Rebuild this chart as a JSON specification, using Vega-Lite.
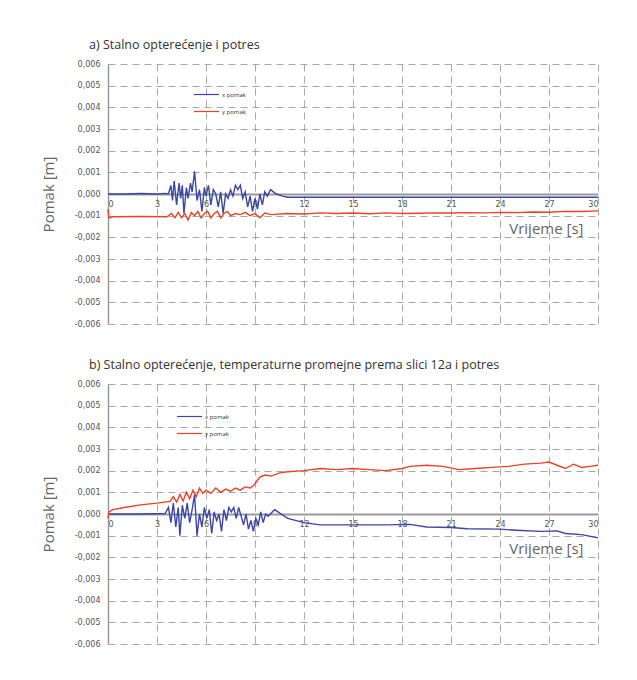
{
  "$schema": "https://vega.github.io/schema/vega-lite/v6.json",
  "background": "white",
  "padding": {"left": 41, "top": 38, "right": 10, "bottom": 10},
  "config": {
    "locale": {"number": {"decimal": ",", "thousands": ".", "grouping": [3], "currency": ["", ""], "minus": "-"}},
    "view": {"stroke": null},
    "font": "Open Sans",
    "title": {"fontSize": 12.5, "fontWeight": "normal", "color": "#333", "anchor": "start", "frame": "group", "dx": -19, "offset": 9, "font": "Open Sans"},
    "axis": {"ticks": false, "grid": true, "gridColor": "#a8a8a8", "gridDash": [7, 5], "gridWidth": 1, "labelFont": "DejaVu Sans", "labelFontSize": 8, "labelColor": "#555", "titleFont": "Open Sans", "titleFontWeight": "normal", "titleColor": "#666", "titleFontSize": 15},
    "legend": {"orient": "none", "symbolType": "stroke", "symbolSize": 625, "symbolStrokeWidth": 1.2, "labelFontSize": 6, "labelColor": "#333", "rowPadding": -7, "title": null, "labelOffset": 2}
  },
  "datasets": {
    "d": [
      {"p": "a", "s": "x pomak", "t": 0, "v": 0}, {"p": "a", "s": "x pomak", "t": 1, "v": 0}, {"p": "a", "s": "x pomak", "t": 2, "v": 0.00002}, {"p": "a", "s": "x pomak", "t": 3, "v": 0}, {"p": "a", "s": "x pomak", "t": 3.5, "v": 0.00003},
      {"p": "a", "s": "x pomak", "t": 3.7, "v": 0}, {"p": "a", "s": "x pomak", "t": 3.85, "v": 0.0004}, {"p": "a", "s": "x pomak", "t": 3.95, "v": -0.0003}, {"p": "a", "s": "x pomak", "t": 4.05, "v": 0.0006}, {"p": "a", "s": "x pomak", "t": 4.2, "v": -0.0005},
      {"p": "a", "s": "x pomak", "t": 4.35, "v": 0.0005}, {"p": "a", "s": "x pomak", "t": 4.45, "v": -0.0002}, {"p": "a", "s": "x pomak", "t": 4.55, "v": 0.0004}, {"p": "a", "s": "x pomak", "t": 4.65, "v": -0.0009}, {"p": "a", "s": "x pomak", "t": 4.8, "v": 0.0003},
      {"p": "a", "s": "x pomak", "t": 4.9, "v": -0.0002}, {"p": "a", "s": "x pomak", "t": 5.05, "v": 0.0005}, {"p": "a", "s": "x pomak", "t": 5.15, "v": 0.0001}, {"p": "a", "s": "x pomak", "t": 5.3, "v": 0.00105}, {"p": "a", "s": "x pomak", "t": 5.45, "v": -0.0003},
      {"p": "a", "s": "x pomak", "t": 5.6, "v": 0.0002}, {"p": "a", "s": "x pomak", "t": 5.75, "v": -0.0008}, {"p": "a", "s": "x pomak", "t": 5.9, "v": 0.0003}, {"p": "a", "s": "x pomak", "t": 6.0, "v": -0.0001}, {"p": "a", "s": "x pomak", "t": 6.15, "v": 0.0004},
      {"p": "a", "s": "x pomak", "t": 6.3, "v": -0.0005}, {"p": "a", "s": "x pomak", "t": 6.45, "v": 0.0002}, {"p": "a", "s": "x pomak", "t": 6.6, "v": 0.0}, {"p": "a", "s": "x pomak", "t": 6.75, "v": -0.0006}, {"p": "a", "s": "x pomak", "t": 6.9, "v": 0.0001},
      {"p": "a", "s": "x pomak", "t": 7.05, "v": -0.0009}, {"p": "a", "s": "x pomak", "t": 7.2, "v": 0.0}, {"p": "a", "s": "x pomak", "t": 7.35, "v": -0.0002}, {"p": "a", "s": "x pomak", "t": 7.5, "v": 0.0002}, {"p": "a", "s": "x pomak", "t": 7.65, "v": -0.0001},
      {"p": "a", "s": "x pomak", "t": 7.8, "v": 0.0004}, {"p": "a", "s": "x pomak", "t": 7.95, "v": 0.0002}, {"p": "a", "s": "x pomak", "t": 8.1, "v": 0.0004}, {"p": "a", "s": "x pomak", "t": 8.25, "v": -0.0002}, {"p": "a", "s": "x pomak", "t": 8.4, "v": 0.0001},
      {"p": "a", "s": "x pomak", "t": 8.55, "v": -0.0006}, {"p": "a", "s": "x pomak", "t": 8.7, "v": -0.0001}, {"p": "a", "s": "x pomak", "t": 8.85, "v": -0.0008}, {"p": "a", "s": "x pomak", "t": 9.0, "v": -0.0002}, {"p": "a", "s": "x pomak", "t": 9.15, "v": -0.0007},
      {"p": "a", "s": "x pomak", "t": 9.3, "v": 0.0}, {"p": "a", "s": "x pomak", "t": 9.45, "v": -0.0005}, {"p": "a", "s": "x pomak", "t": 9.6, "v": 0.0001}, {"p": "a", "s": "x pomak", "t": 9.75, "v": -0.0001}, {"p": "a", "s": "x pomak", "t": 9.95, "v": 0.0002},
      {"p": "a", "s": "x pomak", "t": 10.3, "v": 0.0}, {"p": "a", "s": "x pomak", "t": 10.7, "v": -0.0001}, {"p": "a", "s": "x pomak", "t": 11.0, "v": -0.00015}, {"p": "a", "s": "x pomak", "t": 30, "v": -0.00015},

      {"p": "a", "s": "y pomak", "t": 0, "v": -0.0007}, {"p": "a", "s": "y pomak", "t": 0.05, "v": -0.0011}, {"p": "a", "s": "y pomak", "t": 0.3, "v": -0.00105}, {"p": "a", "s": "y pomak", "t": 2, "v": -0.00104}, {"p": "a", "s": "y pomak", "t": 3.6, "v": -0.00105},
      {"p": "a", "s": "y pomak", "t": 3.9, "v": -0.0009}, {"p": "a", "s": "y pomak", "t": 4.1, "v": -0.0011}, {"p": "a", "s": "y pomak", "t": 4.3, "v": -0.00085}, {"p": "a", "s": "y pomak", "t": 4.5, "v": -0.0011}, {"p": "a", "s": "y pomak", "t": 4.7, "v": -0.0009},
      {"p": "a", "s": "y pomak", "t": 4.9, "v": -0.0012}, {"p": "a", "s": "y pomak", "t": 5.1, "v": -0.00085}, {"p": "a", "s": "y pomak", "t": 5.3, "v": -0.001}, {"p": "a", "s": "y pomak", "t": 5.5, "v": -0.0008}, {"p": "a", "s": "y pomak", "t": 5.7, "v": -0.0011},
      {"p": "a", "s": "y pomak", "t": 5.9, "v": -0.0009}, {"p": "a", "s": "y pomak", "t": 6.1, "v": -0.0008}, {"p": "a", "s": "y pomak", "t": 6.3, "v": -0.0011}, {"p": "a", "s": "y pomak", "t": 6.5, "v": -0.0009}, {"p": "a", "s": "y pomak", "t": 6.7, "v": -0.0008},
      {"p": "a", "s": "y pomak", "t": 6.9, "v": -0.0011}, {"p": "a", "s": "y pomak", "t": 7.1, "v": -0.0009}, {"p": "a", "s": "y pomak", "t": 7.3, "v": -0.0008}, {"p": "a", "s": "y pomak", "t": 7.5, "v": -0.001}, {"p": "a", "s": "y pomak", "t": 7.8, "v": -0.0009},
      {"p": "a", "s": "y pomak", "t": 8.1, "v": -0.00095}, {"p": "a", "s": "y pomak", "t": 8.4, "v": -0.00085}, {"p": "a", "s": "y pomak", "t": 8.7, "v": -0.001}, {"p": "a", "s": "y pomak", "t": 9.0, "v": -0.0009}, {"p": "a", "s": "y pomak", "t": 9.3, "v": -0.0011},
      {"p": "a", "s": "y pomak", "t": 9.6, "v": -0.00088}, {"p": "a", "s": "y pomak", "t": 10, "v": -0.00095}, {"p": "a", "s": "y pomak", "t": 11, "v": -0.0009}, {"p": "a", "s": "y pomak", "t": 12, "v": -0.00092}, {"p": "a", "s": "y pomak", "t": 13, "v": -0.00087},
      {"p": "a", "s": "y pomak", "t": 14, "v": -0.0009}, {"p": "a", "s": "y pomak", "t": 15, "v": -0.00088}, {"p": "a", "s": "y pomak", "t": 16, "v": -0.00091}, {"p": "a", "s": "y pomak", "t": 17, "v": -0.00087}, {"p": "a", "s": "y pomak", "t": 18, "v": -0.0009},
      {"p": "a", "s": "y pomak", "t": 19, "v": -0.00089}, {"p": "a", "s": "y pomak", "t": 20, "v": -0.00087}, {"p": "a", "s": "y pomak", "t": 21, "v": -0.00088}, {"p": "a", "s": "y pomak", "t": 22, "v": -0.00086}, {"p": "a", "s": "y pomak", "t": 23, "v": -0.00087},
      {"p": "a", "s": "y pomak", "t": 24, "v": -0.00085}, {"p": "a", "s": "y pomak", "t": 25, "v": -0.00086}, {"p": "a", "s": "y pomak", "t": 26, "v": -0.00083}, {"p": "a", "s": "y pomak", "t": 27, "v": -0.00084}, {"p": "a", "s": "y pomak", "t": 28, "v": -0.0008},
      {"p": "a", "s": "y pomak", "t": 29, "v": -0.00081}, {"p": "a", "s": "y pomak", "t": 30, "v": -0.00078},

      {"p": "b", "s": "x pomak", "t": 0, "v": 0}, {"p": "b", "s": "x pomak", "t": 2, "v": 0}, {"p": "b", "s": "x pomak", "t": 3.5, "v": 0.00002}, {"p": "b", "s": "x pomak", "t": 3.7, "v": 0.0003}, {"p": "b", "s": "x pomak", "t": 3.85, "v": -0.0004},
      {"p": "b", "s": "x pomak", "t": 4.0, "v": 0.0005}, {"p": "b", "s": "x pomak", "t": 4.15, "v": -0.0006}, {"p": "b", "s": "x pomak", "t": 4.3, "v": 0.0003}, {"p": "b", "s": "x pomak", "t": 4.4, "v": -0.001}, {"p": "b", "s": "x pomak", "t": 4.55, "v": 0.0004},
      {"p": "b", "s": "x pomak", "t": 4.7, "v": -0.0002}, {"p": "b", "s": "x pomak", "t": 4.85, "v": 0.0005}, {"p": "b", "s": "x pomak", "t": 5.0, "v": -0.0004}, {"p": "b", "s": "x pomak", "t": 5.15, "v": 0.0002}, {"p": "b", "s": "x pomak", "t": 5.3, "v": 0.0009},
      {"p": "b", "s": "x pomak", "t": 5.45, "v": -0.001}, {"p": "b", "s": "x pomak", "t": 5.6, "v": 0.0}, {"p": "b", "s": "x pomak", "t": 5.75, "v": -0.0006}, {"p": "b", "s": "x pomak", "t": 5.9, "v": 0.0003}, {"p": "b", "s": "x pomak", "t": 6.05, "v": -0.0002},
      {"p": "b", "s": "x pomak", "t": 6.2, "v": 0.0002}, {"p": "b", "s": "x pomak", "t": 6.35, "v": -0.0009}, {"p": "b", "s": "x pomak", "t": 6.5, "v": 0.0001}, {"p": "b", "s": "x pomak", "t": 6.65, "v": -0.0003}, {"p": "b", "s": "x pomak", "t": 6.8, "v": 0.0},
      {"p": "b", "s": "x pomak", "t": 6.95, "v": -0.0008}, {"p": "b", "s": "x pomak", "t": 7.1, "v": 0.0002}, {"p": "b", "s": "x pomak", "t": 7.25, "v": -0.0003}, {"p": "b", "s": "x pomak", "t": 7.4, "v": 0.0003}, {"p": "b", "s": "x pomak", "t": 7.55, "v": 0.0001},
      {"p": "b", "s": "x pomak", "t": 7.7, "v": 0.0003}, {"p": "b", "s": "x pomak", "t": 7.85, "v": -0.0002}, {"p": "b", "s": "x pomak", "t": 8.0, "v": 0.0003}, {"p": "b", "s": "x pomak", "t": 8.15, "v": -0.0001}, {"p": "b", "s": "x pomak", "t": 8.3, "v": -0.0005},
      {"p": "b", "s": "x pomak", "t": 8.45, "v": 0.0}, {"p": "b", "s": "x pomak", "t": 8.6, "v": -0.0007}, {"p": "b", "s": "x pomak", "t": 8.75, "v": -0.0003}, {"p": "b", "s": "x pomak", "t": 8.9, "v": -0.0008}, {"p": "b", "s": "x pomak", "t": 9.05, "v": -0.0002},
      {"p": "b", "s": "x pomak", "t": 9.2, "v": -0.0005}, {"p": "b", "s": "x pomak", "t": 9.35, "v": 0.0001}, {"p": "b", "s": "x pomak", "t": 9.5, "v": -0.0004}, {"p": "b", "s": "x pomak", "t": 9.65, "v": 0.0}, {"p": "b", "s": "x pomak", "t": 9.8, "v": -0.0001},
      {"p": "b", "s": "x pomak", "t": 10.2, "v": 0.0002}, {"p": "b", "s": "x pomak", "t": 11, "v": -0.0002}, {"p": "b", "s": "x pomak", "t": 12, "v": -0.0004}, {"p": "b", "s": "x pomak", "t": 13, "v": -0.0005}, {"p": "b", "s": "x pomak", "t": 15, "v": -0.0005},
      {"p": "b", "s": "x pomak", "t": 17, "v": -0.0005}, {"p": "b", "s": "x pomak", "t": 18.5, "v": -0.00048}, {"p": "b", "s": "x pomak", "t": 19.5, "v": -0.0006}, {"p": "b", "s": "x pomak", "t": 21, "v": -0.00062}, {"p": "b", "s": "x pomak", "t": 22, "v": -0.00068},
      {"p": "b", "s": "x pomak", "t": 24, "v": -0.0007}, {"p": "b", "s": "x pomak", "t": 25, "v": -0.00075}, {"p": "b", "s": "x pomak", "t": 26.5, "v": -0.0008}, {"p": "b", "s": "x pomak", "t": 27.5, "v": -0.00078}, {"p": "b", "s": "x pomak", "t": 28, "v": -0.0009},
      {"p": "b", "s": "x pomak", "t": 29, "v": -0.00095}, {"p": "b", "s": "x pomak", "t": 30, "v": -0.0011},

      {"p": "b", "s": "y pomak", "t": 0, "v": -0.0002}, {"p": "b", "s": "y pomak", "t": 0.05, "v": 0.0001}, {"p": "b", "s": "y pomak", "t": 0.3, "v": 0.0002}, {"p": "b", "s": "y pomak", "t": 1, "v": 0.0003}, {"p": "b", "s": "y pomak", "t": 2, "v": 0.00042},
      {"p": "b", "s": "y pomak", "t": 3, "v": 0.0005}, {"p": "b", "s": "y pomak", "t": 3.8, "v": 0.00058}, {"p": "b", "s": "y pomak", "t": 4.0, "v": 0.0008}, {"p": "b", "s": "y pomak", "t": 4.2, "v": 0.00055}, {"p": "b", "s": "y pomak", "t": 4.4, "v": 0.0009},
      {"p": "b", "s": "y pomak", "t": 4.6, "v": 0.0006}, {"p": "b", "s": "y pomak", "t": 4.8, "v": 0.001}, {"p": "b", "s": "y pomak", "t": 5.0, "v": 0.0007}, {"p": "b", "s": "y pomak", "t": 5.2, "v": 0.0011}, {"p": "b", "s": "y pomak", "t": 5.4, "v": 0.0008},
      {"p": "b", "s": "y pomak", "t": 5.6, "v": 0.0012}, {"p": "b", "s": "y pomak", "t": 5.8, "v": 0.00095}, {"p": "b", "s": "y pomak", "t": 6.0, "v": 0.0011}, {"p": "b", "s": "y pomak", "t": 6.3, "v": 0.00095}, {"p": "b", "s": "y pomak", "t": 6.6, "v": 0.0012},
      {"p": "b", "s": "y pomak", "t": 6.9, "v": 0.001}, {"p": "b", "s": "y pomak", "t": 7.2, "v": 0.00115}, {"p": "b", "s": "y pomak", "t": 7.5, "v": 0.00105}, {"p": "b", "s": "y pomak", "t": 7.8, "v": 0.0012}, {"p": "b", "s": "y pomak", "t": 8.1, "v": 0.0011},
      {"p": "b", "s": "y pomak", "t": 8.4, "v": 0.00125}, {"p": "b", "s": "y pomak", "t": 8.7, "v": 0.0012}, {"p": "b", "s": "y pomak", "t": 8.9, "v": 0.0013}, {"p": "b", "s": "y pomak", "t": 9.1, "v": 0.0015}, {"p": "b", "s": "y pomak", "t": 9.3, "v": 0.0017},
      {"p": "b", "s": "y pomak", "t": 9.6, "v": 0.0018}, {"p": "b", "s": "y pomak", "t": 10, "v": 0.00175}, {"p": "b", "s": "y pomak", "t": 10.5, "v": 0.0019}, {"p": "b", "s": "y pomak", "t": 11, "v": 0.00195}, {"p": "b", "s": "y pomak", "t": 12, "v": 0.002},
      {"p": "b", "s": "y pomak", "t": 13, "v": 0.0021}, {"p": "b", "s": "y pomak", "t": 14, "v": 0.00205}, {"p": "b", "s": "y pomak", "t": 15, "v": 0.0021}, {"p": "b", "s": "y pomak", "t": 16, "v": 0.00205}, {"p": "b", "s": "y pomak", "t": 17, "v": 0.002},
      {"p": "b", "s": "y pomak", "t": 18, "v": 0.0021}, {"p": "b", "s": "y pomak", "t": 18.5, "v": 0.0022}, {"p": "b", "s": "y pomak", "t": 19.5, "v": 0.00225}, {"p": "b", "s": "y pomak", "t": 20.5, "v": 0.0022}, {"p": "b", "s": "y pomak", "t": 21.5, "v": 0.00205},
      {"p": "b", "s": "y pomak", "t": 22.5, "v": 0.0021}, {"p": "b", "s": "y pomak", "t": 23.5, "v": 0.00215}, {"p": "b", "s": "y pomak", "t": 24.5, "v": 0.0022}, {"p": "b", "s": "y pomak", "t": 25.5, "v": 0.0023}, {"p": "b", "s": "y pomak", "t": 26.5, "v": 0.00235},
      {"p": "b", "s": "y pomak", "t": 27, "v": 0.0024}, {"p": "b", "s": "y pomak", "t": 27.5, "v": 0.00225}, {"p": "b", "s": "y pomak", "t": 28, "v": 0.0021}, {"p": "b", "s": "y pomak", "t": 28.5, "v": 0.0023}, {"p": "b", "s": "y pomak", "t": 29, "v": 0.00215},
      {"p": "b", "s": "y pomak", "t": 29.5, "v": 0.0022}, {"p": "b", "s": "y pomak", "t": 30, "v": 0.00225}
    ]
  },
  "data": {"name": "d"},
  "resolve": {"scale": {"color": "independent"}},
  "spacing": 30,
  "vconcat": [
    {
      "title": "a) Stalno opterećenje i potres",
      "width": 490,
      "height": 260,
      "transform": [{"filter": "datum.p === 'a'"}],
      "mark": {"type": "line", "strokeWidth": 1.4, "interpolate": "linear"},
      "encoding": {
        "x": {"field": "t", "type": "quantitative", "scale": {"domain": [0, 30], "nice": false},
              "axis": {"values": [0, 3, 6, 9, 12, 15, 18, 21, 24, 27, 30], "offset": -130, "domainColor": "#9a9a9a", "domainWidth": 2, "labelPadding": 6, "title": "Vrijeme [s]", "titleX": 475, "titleY": 27, "titleAlign": "right", "titleAnchor": null}},
        "y": {"field": "v", "type": "quantitative", "scale": {"domain": [-0.006, 0.006], "nice": false},
              "axis": {"values": [-0.006, -0.005, -0.004, -0.003, -0.002, -0.001, 0, 0.001, 0.002, 0.003, 0.004, 0.005, 0.006], "format": ".3f", "domainColor": "#9a9a9a", "domainWidth": 1.5, "labelPadding": 8, "title": "Pomak [m]", "titlePadding": 18}},
        "color": {"field": "s", "type": "nominal", "scale": {"domain": ["x pomak", "y pomak"], "range": ["#3b46a8", "#e8432b"]},
                  "legend": {"legendX": 85, "legendY": 17}},
        "order": {"field": "t", "type": "quantitative"}
      }
    },
    {
      "title": "b) Stalno opterećenje, temperaturne promejne prema slici 12a i potres",
      "width": 490,
      "height": 260,
      "transform": [{"filter": "datum.p === 'b'"}],
      "mark": {"type": "line", "strokeWidth": 1.4, "interpolate": "linear"},
      "encoding": {
        "x": {"field": "t", "type": "quantitative", "scale": {"domain": [0, 30], "nice": false},
              "axis": {"values": [0, 3, 6, 9, 12, 15, 18, 21, 24, 27, 30], "offset": -130, "domainColor": "#9a9a9a", "domainWidth": 2, "labelPadding": 6, "title": "Vrijeme [s]", "titleX": 475, "titleY": 27, "titleAlign": "right", "titleAnchor": null}},
        "y": {"field": "v", "type": "quantitative", "scale": {"domain": [-0.006, 0.006], "nice": false},
              "axis": {"values": [-0.006, -0.005, -0.004, -0.003, -0.002, -0.001, 0, 0.001, 0.002, 0.003, 0.004, 0.005, 0.006], "format": ".3f", "domainColor": "#9a9a9a", "domainWidth": 1.5, "labelPadding": 8, "title": "Pomak [m]", "titlePadding": 18}},
        "color": {"field": "s", "type": "nominal", "scale": {"domain": ["x pomak", "y pomak"], "range": ["#3b46a8", "#e8432b"]},
                  "legend": {"legendX": 68, "legendY": 19}},
        "order": {"field": "t", "type": "quantitative"}
      }
    }
  ]
}
